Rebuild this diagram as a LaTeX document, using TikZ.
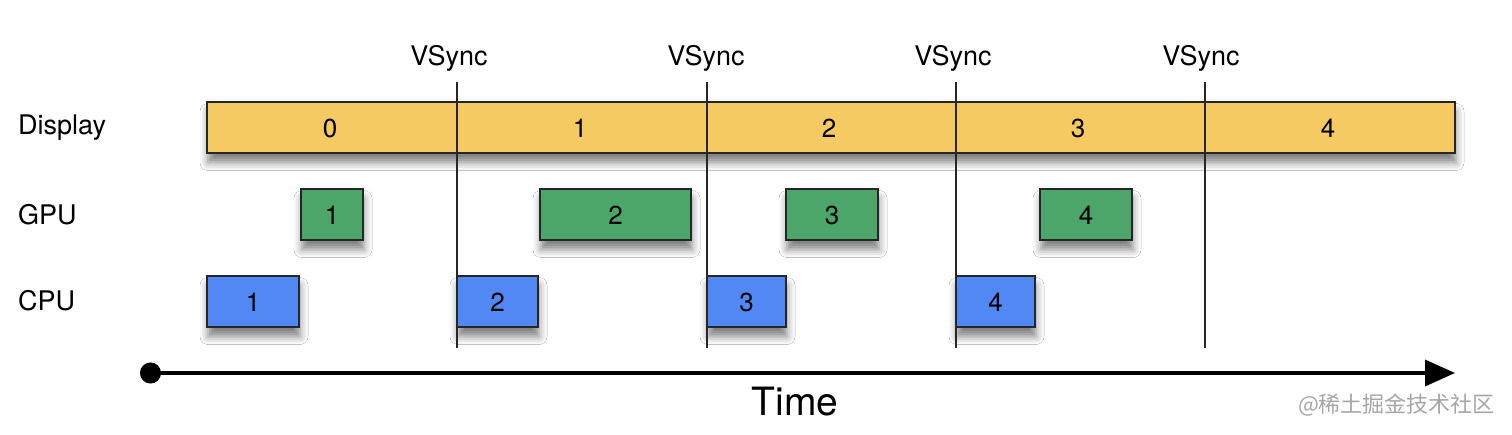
\documentclass[tikz,border=0pt]{standalone}
\usepackage{fontspec}
\setmainfont{TeX Gyre Heros}
\newfontfamily\cjk{Noto Sans CJK SC}
\usetikzlibrary{arrows.meta,shadows.blur}
\definecolor{dispY}{RGB}{246,202,98}
\definecolor{gpuG}{RGB}{76,166,106}
\definecolor{cpuB}{RGB}{82,136,244}
\tikzset{
  bx/.style={draw=black!85, line width=2pt, inner sep=0pt, minimum height=51pt,
    font=\fontsize{26}{28}\selectfont,
    blur shadow={shadow xshift=1pt, shadow yshift=-9pt, shadow blur radius=8pt, shadow opacity=50}},
  dispbox/.style={bx, fill=dispY},
  gpubox/.style={bx, fill=gpuG},
  cpubox/.style={bx, fill=cpuB},
  lbl/.style={font=\fontsize{27}{29}\selectfont, inner sep=0pt},
  num/.style={font=\fontsize{26}{28}\selectfont, inner sep=0pt},
  vline/.style={line width=1.8pt, black!85},
  axis/.style={line width=3.5pt, {Circle[length=21pt]}-{Triangle[length=30pt,width=26pt]}}
}
\begin{document}
\begin{tikzpicture}[x=1pt,y=-1pt]
\useasboundingbox[fill=white] (0,0) rectangle (1512,435);
% row labels
\node[lbl, anchor=west] (ldisp) at (18,128) {Display};
\node[lbl, anchor=west] (lgpu) at (18,215) {GPU};
\node[lbl, anchor=west] (lcpu) at (18,301) {CPU};
% display bar
\node[dispbox, minimum width=1248pt] (disp) at (831,128) {};
\node[num] (d0) at (330,128) {0};
\node[num] (d1) at (580,128) {1};
\node[num] (d2) at (829,128) {2};
\node[num] (d3) at (1078,128) {3};
\node[num] (d4) at (1328,128) {4};
% GPU
\node[gpubox, minimum width=62pt] (g1) at (332,215) {1};
\node[gpubox, minimum width=151pt] (g2) at (615.5,215) {2};
\node[gpubox, minimum width=92pt] (g3) at (832,215) {3};
\node[gpubox, minimum width=92pt] (g4) at (1086,215) {4};
% CPU
\node[cpubox, minimum width=92pt] (c1) at (253,302) {1};
\node[cpubox, minimum width=81pt] (c2) at (497.5,302) {2};
\node[cpubox, minimum width=79pt] (c3) at (746.5,302) {3};
\node[cpubox, minimum width=79pt] (c4) at (995.5,302) {4};
% vsync lines
\foreach \i/\x/\lx in {1/457/449, 2/707/706, 3/956/953, 4/1205/1201}{
  \coordinate (vt\i) at (\x,82);
  \coordinate (vb\i) at (\x,348);
  \node[lbl] (vs\i) at (\lx,58) {VSync};
  \draw[vline] (vt\i) -- (vb\i);
}
% time axis
\coordinate (t0) at (140,373);
\coordinate (t1) at (1455,373);
\draw[axis] (t0) -- (t1);
\node[font=\fontsize{39}{41}\selectfont, inner sep=0pt] (time) at (795,402) {Time};
% watermark
\node[font=\cjk\fontsize{22}{24}\selectfont, text=black!35, anchor=east, inner sep=0pt] (wm) at (1495,405) {@稀土掘金技术社区};
\end{tikzpicture}
\end{document}
